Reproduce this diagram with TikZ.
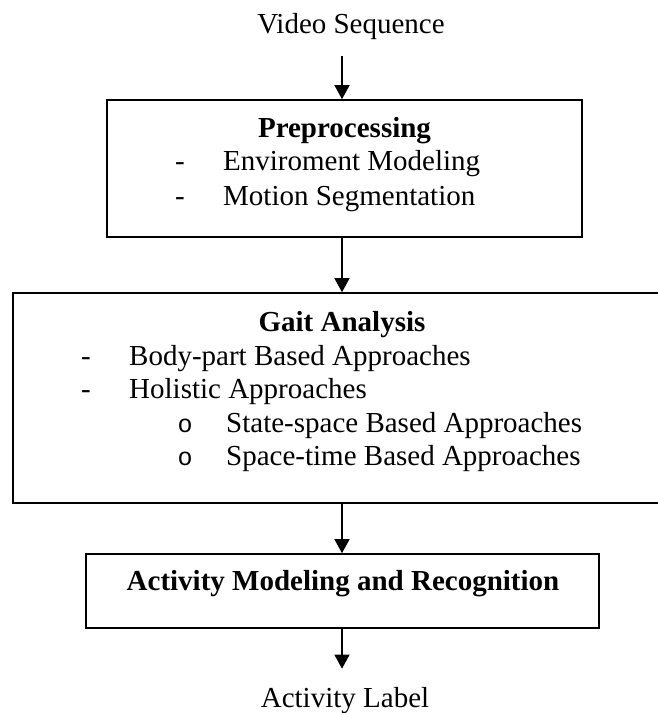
\documentclass[tikz,border=0pt]{standalone}
\usepackage{fontspec}
\setmainfont{Liberation Serif}
\newfontfamily\bulletfont{Liberation Mono}
\usetikzlibrary{arrows.meta}

\begin{document}
\begin{tikzpicture}[x=1pt,y=-1pt,
  every node/.style={inner sep=0pt, font=\fontsize{29}{33.5}\selectfont},
  stagebox/.style={draw, line width=1.6pt, inner sep=0pt},
  heading/.style={anchor=base, font=\fontsize{29}{33.5}\selectfont\bfseries},
  item/.style={anchor=base west},
  bullet/.style={anchor=base},
  flow/.style={line width=1.3pt, -{Triangle[length=14pt,width=15pt]}}
]
\clip (0,0) rectangle (658,713);
\useasboundingbox (0,0) rectangle (658,713);

% input and output labels
\node[anchor=base] (vs) at (351,33) {Video Sequence};
\node[anchor=base] (al) at (345,707) {Activity Label};

% stage frames
\node[stagebox, minimum width=475pt, minimum height=137pt] (b1) at (344.5,168.5) {};
\node[stagebox, minimum width=658pt, minimum height=210pt] (b2) at (342,398) {};
\node[stagebox, minimum width=513pt, minimum height=74pt]  (b3) at (342.5,591) {};

% preprocessing
\node[heading] (h1) at (344.5,137) {Preprocessing};
\node[bullet] (d11) at (180,170) {-};
\node[item]   (t11) at (223,170) {Enviroment Modeling};
\node[bullet] (d12) at (180,205) {-};
\node[item]   (t12) at (223,205) {Motion Segmentation};

% gait analysis
\node[heading] (h2) at (342,331) {Gait Analysis};
\node[bullet] (d21) at (86,365) {-};
\node[item]   (t21) at (129,365) {Body-part Based Approaches};
\node[bullet] (d22) at (86,398) {-};
\node[item]   (t22) at (129,398) {Holistic Approaches};
\node[bullet, font=\fontsize{25}{28}\bulletfont] (o1) at (185,432) {o};
\node[item]   (t23) at (226,432) {State-space Based Approaches};
\node[bullet, font=\fontsize{25}{28}\bulletfont] (o2) at (185,465) {o};
\node[item]   (t24) at (226,465) {Space-time Based Approaches};

% recognition
\node[heading] (h3) at (343,590) {Activity Modeling and Recognition};

% flow arrows
\coordinate (ax) at (342,0);
\draw[flow, shorten <=17pt] (vs.south -| ax) -- (b1.north -| ax);
\draw[flow] (b1.south -| ax) -- (b2.north -| ax);
\draw[flow] (b2.south -| ax) -- (b3.north -| ax);
\draw[flow, shorten >=18pt] (b3.south -| ax) -- (al.north -| ax);
\end{tikzpicture}
\end{document}
